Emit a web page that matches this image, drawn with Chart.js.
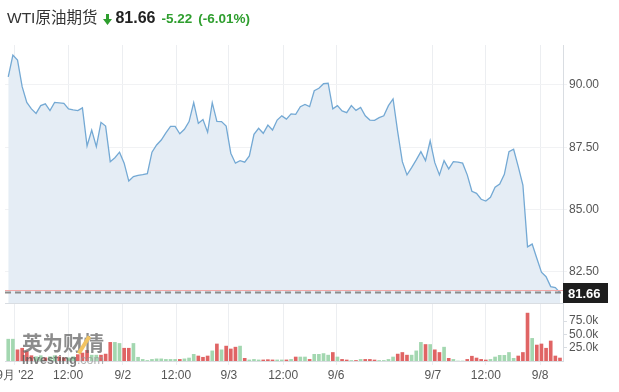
<!DOCTYPE html>
<html>
<head>
<meta charset="utf-8">
<script src="https://cdn.jsdelivr.net/npm/chart.js@4.4.1/dist/chart.umd.min.js"></script>
<style>
  html, body { margin: 0; padding: 0; background: #fff; }
  #wrap { position: relative; width: 619px; height: 392px; overflow: hidden;
          font-family: Arial, "Liberation Sans", "Noto Sans CJK SC", sans-serif; }
  #chart { position: absolute; left: 0; top: 0; }
  #hdr { position: absolute; left: 7px; top: 8px; white-space: nowrap; line-height: 20px; }
  #hdr .name { font-size: 15.5px; color: #333; }
  #hdr .last { font-size: 16px; font-weight: bold; color: #222; margin-left: 3px; }
  #hdr .chg { font-size: 13.5px; font-weight: bold; color: #2e9e2e; margin-left: 6px; }
  #hdr svg { vertical-align: -2px; margin-left: 6px; }
  #wm { position: absolute; left: 22px; top: 330px; opacity: .75; pointer-events: none; }
  #wm .cn { position: relative; font-size: 20.5px; font-weight: bold; color: #666;
            font-family: "Noto Sans CJK SC", sans-serif; line-height: 24px; }
  #wm .slash { position: absolute; left: 60px; top: 5px; width: 4px; height: 20px; background: #eeb12e;
               transform: rotate(32deg); }
  #wm .en { font-size: 12.5px; font-weight: bold; color: #555; line-height: 12px; margin-top: 0px; }
  #wm .en i { font-style: normal; font-weight: normal; color: #999; }
</style>
</head>
<body>
<div id="wrap">
  <canvas id="chart" width="619" height="392"></canvas>
  <div id="hdr">
    <span class="name">WTI原油期货</span><svg width="9" height="11" viewBox="0 0 9 11"><path d="M3 0h3v5h3L4.5 11 0 5h3z" fill="#2e9e2e"/></svg><span class="last">81.66</span><span class="chg">-5.22</span><span class="chg">(-6.01%)</span>
  </div>
  <div id="wm"><div class="cn">英为财情<span class="slash"></span></div><div class="en">Investing<i>.com</i></div></div>
</div>
<script>
// hourly closes, 9/1 -> 9/8
const prices = [
  90.33, 91.2, 91.0, 89.93, 89.3, 89.04, 88.86, 89.17, 89.24, 88.97,
  89.3, 89.28, 89.26, 89.04, 89.0, 88.97, 89.08, 87.55, 88.19, 87.52,
  88.5, 88.35, 86.92, 87.08, 87.3, 86.86, 86.14, 86.32, 86.37, 86.4,
  86.44, 87.3, 87.59, 87.79, 88.08, 88.34, 88.34, 88.04, 88.22, 88.53,
  89.29, 88.46, 88.61, 88.1, 89.29, 88.54, 88.53, 88.35, 87.26, 86.86,
  86.96, 86.9, 87.15, 88.02, 88.26, 88.06, 88.39, 88.19, 88.59, 88.76,
  88.63, 88.84, 88.82, 89.13, 89.22, 89.13, 89.77, 89.87, 90.05, 90.07,
  89.04, 89.17, 88.96, 88.89, 89.17, 88.98, 89.1, 88.76, 88.59, 88.58,
  88.69, 88.76, 89.17, 89.44, 88.12, 86.92, 86.39, 86.68, 86.99, 87.32,
  86.96, 87.76, 86.88, 86.39, 86.96, 86.63, 86.92, 86.9, 86.86, 86.39,
  85.73, 85.65, 85.41, 85.34, 85.49, 85.89, 86.02, 86.41, 87.32, 87.42,
  86.72, 85.98, 83.5, 83.61, 83.04, 82.48, 82.3, 81.9, 81.86, 81.66
];
// volume in thousands
const volumes = [
  41, 41, 21, 24, 18, 10, 8, 10, 6, 8,
  10, 8, 6, 6, 8, 12, 15, 20, 11, 11,
  11, 13, 35, 35, 33, 24, 24, 33, 7, 3,
  1, 3, 4, 4, 3, 3, 3, 3, 4, 5.6,
  12.5, 9.4, 7, 9.4, 19, 32, 21, 28, 22.6, 26,
  28, 5, 2, 3, 2, 2, 2.5, 2, 2, 2,
  2, 3, 7.5, 7.5, 7.5, 3, 12.5, 12.5, 14, 11,
  16, 7.5, 3, 1.9, 1, 1, 3, 3, 3, 1.9,
  1, 1, 3, 7.5, 13, 16, 11, 11, 19, 35,
  31, 31, 21, 16, 26, 5, 3, 0, 0, 3,
  9, 5.6, 3, 1.9, 3, 7.5, 10.6, 10.6, 16, 5,
  9.4, 16, 90, 42.5, 30, 32, 24, 37.6, 9.4, 5.6
];
// g = up bar, r = down bar
const volDir = (
  "ggrrrrggrg" + "grrggrrrgg" + "rrrggrrggg" + "gggggggrgg" +
  "grrrgrgrrr" + "grgggrrrgg" + "rgrggrgggg" + "rgrrgrgrrr" +
  "ggggrrrggg" + "rgrrgrgggr" + "rrrrgggggg" + "rrrgrrrrrr"
).split("");

const xTickPos    = [1.45, 12.9, 24.7, 36.2, 47.6, 59.3, 70.7, 91.6, 103.0, 114.7];
const xTickLabels = ["9月 '22", "12:00", "9/2", "12:00", "9/3", "12:00", "9/6", "9/7", "12:00", "9/8"];
const priceTicks  = [82.5, 85, 87.5, 90];
const volTicks    = [25, 50, 75];
const lastPrice = 81.66;
const bidLine   = 81.76;

const UP = "#a3d7b0", DOWN = "#e06464";

const overlay = {
  id: "overlay",
  afterDatasetsDraw(chart){
    const { ctx, chartArea: a, scales } = chart;
    const yp = scales.y;
    ctx.save();
    // panel separator
    ctx.strokeStyle = "#d9dde2"; ctx.lineWidth = 1;
    ctx.beginPath(); ctx.moveTo(a.left, Math.round(yp.bottom) + .5); ctx.lineTo(a.right, Math.round(yp.bottom) + .5); ctx.stroke();
    // bid line
    let y = Math.round(yp.getPixelForValue(bidLine)) + .5;
    ctx.strokeStyle = "#f2a7a7";
    ctx.beginPath(); ctx.moveTo(a.left, y); ctx.lineTo(a.right, y); ctx.stroke();
    // last price dashed line
    y = yp.getPixelForValue(lastPrice);
    ctx.strokeStyle = "#8c8c8c"; ctx.lineWidth = 2; ctx.setLineDash([6, 4]);
    ctx.beginPath(); ctx.moveTo(a.left, y); ctx.lineTo(a.right, y); ctx.stroke();
    ctx.setLineDash([]);
    // last price tag
    ctx.fillStyle = "#1e1e1e";
    ctx.fillRect(a.right, Math.round(y) - 10, 45, 20);
    ctx.fillStyle = "#fff"; ctx.font = "bold 13px Arial"; ctx.textBaseline = "middle"; ctx.textAlign = "left";
    ctx.fillText(lastPrice.toFixed(2), a.right + 5, Math.round(y) + 1);
    ctx.restore();
  }
};

const fixW = s => { s.width = 56; };

new Chart(document.getElementById("chart"), {
  type: "bar",
  data: {
    datasets: [
      {
        type: "line", yAxisID: "y",
        data: prices.map((p, i) => ({ x: i, y: p })),
        borderColor: "#74a9d4", borderWidth: 1.3, pointRadius: 0, tension: 0,
        fill: "start", backgroundColor: "#e5edf5", order: 1
      },
      {
        type: "bar", yAxisID: "vol",
        data: volumes.map((v, i) => ({ x: i, y: v })),
        backgroundColor: volDir.map(d => d === "g" ? UP : DOWN),
        barThickness: 3, grouped: false, order: 2
      }
    ]
  },
  options: {
    responsive: false, animation: false,
    layout: { padding: { top: 45, left: 5, right: 0, bottom: 0 } },
    plugins: { legend: { display: false }, tooltip: { enabled: false } },
    scales: {
      x: {
        type: "linear", min: -0.7, max: 119.65, offset: false,
        grid: { color: "#eceef1", offset: false, drawTicks: true, tickLength: 4 },
        border: { color: "#d9dde2" },
        ticks: { color: "#555", font: { size: 12, family: "Arial" }, maxRotation: 0, autoSkip: false, padding: 3,
                 callback: (v, i) => xTickLabels[i] },
        afterBuildTicks: s => { s.ticks = xTickPos.map(v => ({ value: v })); },
        afterFit: s => { s.height = 31; s.paddingLeft = 0; s.paddingRight = 0; }
      },
      y: {
        type: "linear", position: "right", stack: "v", stackWeight: 258,
        min: 81.243, max: 91.606,
        grid: { color: "#f1f2f4", tickLength: 4 },
        border: { color: "#d9dde2" },
        ticks: { color: "#555", font: { size: 12, family: "Arial" }, padding: 2, autoSkip: false,
                 callback: v => v.toFixed(2) },
        afterBuildTicks: s => { s.ticks = priceTicks.map(v => ({ value: v })); },
        afterFit: fixW
      },
      vol: {
        type: "linear", position: "right", stack: "v", stackWeight: 58,
        min: 0, max: 109,
        grid: { drawOnChartArea: false, color: "#d9dde2", tickLength: 4 },
        border: { color: "#d9dde2" },
        ticks: { color: "#555", font: { size: 12, family: "Arial" }, padding: 2, autoSkip: false,
                 callback: v => v.toFixed(1) + "k" },
        afterBuildTicks: s => { s.ticks = volTicks.map(v => ({ value: v })); },
        afterFit: fixW
      }
    }
  },
  plugins: [overlay]
});
</script>
</body>
</html>
